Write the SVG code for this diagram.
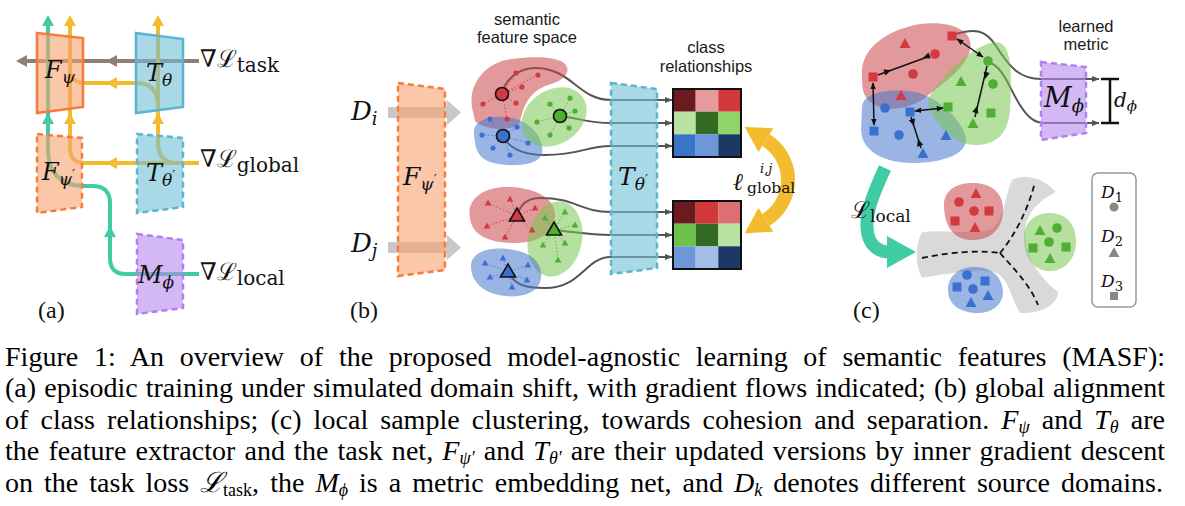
<svg xmlns="http://www.w3.org/2000/svg" width="1185" height="506" viewBox="0 0 1185 506">
<style>
.sans{font-family:"Liberation Sans",Arial,sans-serif;font-size:16.5px;fill:#1a1a1a}
.m{font-family:"DejaVu Serif","Liberation Serif",serif;font-style:italic;fill:#111}
.r{font-style:normal}
.pl{font-family:"Liberation Serif","Times New Roman",serif;font-size:24px;fill:#111}
.cap{font-family:"Liberation Serif","Times New Roman",serif;font-size:28px;fill:#000}
.ci{font-style:italic}
.thk{fill:none;stroke-width:4}
.teal{stroke:#3fcba3}.yel{stroke:#f3bc2e}.brn{stroke:#8f7e76}
.fT{fill:#3fcba3}.fY{fill:#f3bc2e}.fB{fill:#8f7e76}
.bxO{fill:#f9a26f;fill-opacity:.6;stroke:#f57c3c;stroke-width:2.5}
.bxB{fill:#70c0d5;fill-opacity:.6;stroke:#5ab4d2;stroke-width:2.5}
.bxP{fill:#b689ee;fill-opacity:.6;stroke:#b07ff0;stroke-width:2.5}
.dash{stroke-dasharray:6 4}
.bR{fill:#ca4649;fill-opacity:.55}.bG{fill:#78c752;fill-opacity:.55}.bBl{fill:#4778cc;fill-opacity:.55}
.pR{fill:#d23a3f}.pG{fill:#4fae33}.pB{fill:#3b6fd0}.pK{fill:#888}
.dR{stroke:#d23a3f}.dG{stroke:#4fae33}.dB{stroke:#3b6fd0}
.dot{stroke-width:1;stroke-dasharray:1.5 2;fill:none;opacity:.85}
.big{stroke:#111;stroke-width:1.6}
.cv{fill:none;stroke:#555;stroke-width:2}
.blk{fill:none;stroke:#111;stroke-width:1.5}
.cs{font-size:18px}
</style>
<defs>
<path id="ha" d="M0,0 L-11,-6 L-11,6 Z"/>
<path id="sh" d="M0,0 L-7,-3.2 L-7,3.2 Z" fill="#111"/>
<path id="st" d="M0,-3.6 L3.3,2.4 L-3.3,2.4 Z"/>
<path id="bt" d="M0,-8 L7.5,5 L-7.5,5 Z"/>
<rect id="sq" x="-4.5" y="-4.5" width="9" height="9"/>
<path id="tr" d="M0,-6 L5.5,4 L-5.5,4 Z"/>
<marker id="ag" viewBox="0 0 10 10" refX="9" refY="5" markerWidth="8" markerHeight="8" markerUnits="userSpaceOnUse" orient="auto"><path d="M0,1 L10,5 L0,9 Z" fill="#555"/></marker>
<marker id="ak" viewBox="0 0 10 10" refX="9" refY="5" markerWidth="7" markerHeight="7" markerUnits="userSpaceOnUse" orient="auto-start-reverse"><path d="M0,1 L10,5 L0,9 Z" fill="#111"/></marker>
</defs>

<!-- ========== connectors ========== -->
<g id="connectors">
  <!-- panel a -->
  <path class="thk brn" d="M199,61 H26"/>
  <use href="#ha" class="fB" transform="translate(16,61) rotate(180)"/>
  <use href="#ha" class="fB" transform="translate(106,61) rotate(180)"/>
  <path class="thk yel" d="M199,163 H178 Q158,163 158,143 V24"/>
  <path class="thk yel" d="M199,163 H85 Q70,163 70,148 V24"/>
  <path class="thk yel" d="M158,106 Q158,83 136,83 H85 Q70,83 70,68"/>
  <use href="#ha" class="fY" transform="translate(70,15) rotate(-90)"/>
  <use href="#ha" class="fY" transform="translate(158,15) rotate(-90)"/>
  <use href="#ha" class="fY" transform="translate(70,113) rotate(-90)"/>
  <use href="#ha" class="fY" transform="translate(158,113) rotate(-90)"/>
  <use href="#ha" class="fY" transform="translate(106,83) rotate(180)"/>
  <use href="#ha" class="fY" transform="translate(106,163) rotate(180)"/>
  <path class="thk teal" d="M199,274 H126 Q110,274 110,258 V203 Q110,187 94,186 H84 C60,186 48,172 48,150 V24"/>
  <use href="#ha" class="fT" transform="translate(48,15) rotate(-90)"/>
  <use href="#ha" class="fT" transform="translate(48,113) rotate(-90)"/>
  <use href="#ha" class="fT" transform="translate(110,226) rotate(-90)"/>

  <!-- panel b : input arrows -->
  <path fill="#c8c8c8" d="M388,107 H447 V100 L461,112.5 L447,125 V118 H388 Z"/>
  <path fill="#c8c8c8" d="M388,242 H447 V235 L461,247.5 L447,260 V253 H388 Z"/>
  <!-- panel b : cluster centre curves -->
  <path class="cv" marker-end="url(#ag)" d="M502,94 C505,80 518,68 535,68 C572,68 578,100 611,100 H672"/>
  <path class="cv" marker-end="url(#ag)" d="M560,116 C578,118 588,123 611,123 H672"/>
  <path class="cv" marker-end="url(#ag)" d="M503,136 C510,150 525,155 545,155 C582,155 585,146 611,146 H672"/>
  <path class="cv" marker-end="url(#ag)" d="M517,216 C520,205 527,198 540,198 C576,198 580,212 611,212 H672"/>
  <path class="cv" marker-end="url(#ag)" d="M554,230 C575,232 590,235 611,235 H672"/>
  <path class="cv" marker-end="url(#ag)" d="M508,272 C515,285 525,288 545,288 C582,288 585,257 611,257 H672"/>
  <!-- panel b : global alignment double arrow -->
  <path fill="none" stroke="#f3bc2e" stroke-width="14" d="M765.9,140.1 A47,47 0 0 1 765.9,219.9"/>
  <path fill="#f3bc2e" d="M744.7,126.9 L773.3,128.2 L758.5,152 Z"/>
  <path fill="#f3bc2e" d="M744.7,233.2 L773.3,231.8 L758.5,208 Z"/>

  <!-- panel c : curves to metric -->
  <path class="cv" marker-end="url(#ag)" d="M956,34 C975,28 986,30 996,46 C1010,68 1020,79 1041,79 H1099"/>
  <path class="cv" marker-end="url(#ag)" d="M991,63 C1005,70 1010,90 1020,105 C1028,118 1035,123 1045,123 H1099"/>
  <!-- d_phi bracket -->
  <path fill="none" stroke="#111" stroke-width="2.5" d="M1101,79 H1119 M1110,79 V123 M1101,123 H1119"/>
  <!-- teal L_local arrow -->
  <path fill="none" stroke="#3fcba3" stroke-width="13" d="M885,168 C875,190 866,210 867,228 C868,245 878,252 890,252"/>
  <path fill="#3fcba3" d="M887,236 L916,252 L887,268 Z"/>
</g>

<!-- ========== panel a nodes ========== -->
<g id="node-F-psi">
  <polygon class="bxO" points="37,33 83,38 83,107 37,113"/>
  <text class="m" x="45" y="78" font-size="24">F<tspan font-size="17" dy="5">ψ</tspan></text>
</g>
<g id="node-T-theta">
  <polygon class="bxB" points="136,33 183,39 183,107 136,113"/>
  <text class="m" x="146" y="81" font-size="24">T<tspan font-size="17" dy="5">θ</tspan></text>
</g>
<g id="node-F-psi-prime">
  <polygon class="bxO dash" points="37,134 82,138 82,207 37,213"/>
  <text class="m" x="42" y="180" font-size="24">F<tspan font-size="17" dy="5">ψ</tspan><tspan font-size="13" dy="-6">′</tspan></text>
</g>
<g id="node-T-theta-prime">
  <polygon class="bxB dash" points="137,134 183,138 183,207 137,213"/>
  <text class="m" x="146" y="181" font-size="24">T<tspan font-size="17" dy="5">θ</tspan><tspan font-size="13" dy="-6">′</tspan></text>
</g>
<g id="node-M-phi">
  <polygon class="bxP dash" points="137,234 183,240 183,308 137,314"/>
  <text class="m" x="138" y="283" font-size="24">M<tspan font-size="17" dy="5">ϕ</tspan></text>
</g>
<g id="labels-a">
  <text class="m" x="200" y="67" font-size="24"><tspan class="r">∇ℒ</tspan><tspan class="r" font-size="20" dy="5">task</tspan></text>
  <text class="m" x="200" y="167" font-size="24"><tspan class="r">∇ℒ</tspan><tspan class="r" font-size="20" dy="5">global</tspan></text>
  <text class="m" x="200" y="280" font-size="24"><tspan class="r">∇ℒ</tspan><tspan class="r" font-size="20" dy="5">local</tspan></text>
  <text class="pl" x="38" y="318">(a)</text>
</g>

<!-- ========== panel b ========== -->
<g id="labels-b">
  <text class="sans" x="527" y="25" text-anchor="middle">semantic</text>
  <text class="sans" x="527" y="43" text-anchor="middle">feature space</text>
  <text class="sans" x="706" y="53" text-anchor="middle">class</text>
  <text class="sans" x="706" y="72" text-anchor="middle">relationships</text>
  <text class="m" x="351" y="120" font-size="26">D<tspan font-size="18" dy="5">i</tspan></text>
  <text class="m" x="351" y="252" font-size="26">D<tspan font-size="18" dy="5">j</tspan></text>
  <text class="pl" x="350" y="318">(b)</text>
  <text class="m" x="733" y="190" font-size="24">ℓ</text>
  <text class="m" x="760" y="173" font-size="13">i,j</text>
  <text class="m r" x="747" y="193" font-size="15.5">global</text>
</g>
<g id="node-F-psi-prime-b">
  <polygon class="bxO dash" points="398,83 445,89 445,270 398,276"/>
  <text class="m" x="403" y="185" font-size="25">F<tspan font-size="17" dy="5">ψ</tspan><tspan font-size="13" dy="-6">′</tspan></text>
</g>
<g id="clusters-i">
  <path class="bR" d="M473,112 C466,85 485,62 512,59 C535,56 556,57 564,63 C572,70 566,80 548,85 C530,91 523,106 520,122 C515,132 485,131 475,121 Z"/>
  <path class="bBl" d="M474,134 C472,120 492,114 512,118 C532,122 545,140 542,154 C538,166 510,168 490,162 C476,157 475,145 474,134 Z"/>
  <ellipse class="bG" cx="554" cy="117" rx="35" ry="27" transform="rotate(-35 554 117)"/>
  <path class="dot dR" d="M502,94L516,73M502,94L538,75M502,94L522,87M502,94L483,104M502,94L516,103M502,94L507,119"/>
  <path class="dot dB" d="M503,136L482,135M503,136L490,119M503,136L517,127M503,136L528,143M503,136L493,148M503,136L510,155"/>
  <path class="dot dG" d="M560,116L550,104M560,116L570,98M560,116L575,111M560,116L537,122M560,116L569,128M560,116L550,135"/>
  <g class="pR"><circle cx="516" cy="73" r="2.6"/><circle cx="538" cy="75" r="2.6"/><circle cx="522" cy="87" r="2.6"/><circle cx="483" cy="104" r="2.6"/><circle cx="516" cy="103" r="2.6"/><circle cx="507" cy="119" r="2.6"/></g>
  <g class="pB"><circle cx="482" cy="135" r="2.6"/><circle cx="490" cy="119" r="2.6"/><circle cx="517" cy="127" r="2.6"/><circle cx="528" cy="143" r="2.6"/><circle cx="493" cy="148" r="2.6"/><circle cx="510" cy="155" r="2.6"/></g>
  <g class="pG"><circle cx="550" cy="104" r="2.6"/><circle cx="570" cy="98" r="2.6"/><circle cx="575" cy="111" r="2.6"/><circle cx="537" cy="122" r="2.6"/><circle cx="569" cy="128" r="2.6"/><circle cx="550" cy="135" r="2.6"/></g>
  <circle class="pR big" cx="502" cy="94" r="6.5"/>
  <circle class="pG big" cx="560" cy="116" r="6.5"/>
  <circle class="pB big" cx="503" cy="136" r="6.5"/>
</g>
<g id="clusters-j">
  <path class="bR" d="M470,218 C466,198 485,186 510,187 C535,188 555,198 555,215 C555,232 540,243 515,243 C490,243 472,236 470,218 Z"/>
  <ellipse class="bG" cx="555" cy="239" rx="27" ry="38" transform="rotate(12 555 239)"/>
  <path class="bBl" d="M471,268 C470,252 488,247 508,249 C530,251 543,262 541,278 C539,293 522,298 505,296 C485,294 472,283 471,268 Z"/>
  <path class="dot dR" d="M517,216L488,203M517,216L510,199M517,216L535,208M517,216L487,226M517,216L505,237M517,216L532,230"/>
  <path class="dot dG" d="M554,230L545,218M554,230L565,212M554,230L575,225M554,230L543,245M554,230L565,243M554,230L558,260"/>
  <path class="dot dB" d="M508,272L485,263M508,272L503,258M508,272L528,265M508,272L490,277M508,272L527,280M508,272L512,287"/>
  <g class="pR"><use href="#st" x="488" y="203"/><use href="#st" x="510" y="199"/><use href="#st" x="535" y="208"/><use href="#st" x="487" y="226"/><use href="#st" x="505" y="237"/><use href="#st" x="532" y="230"/></g>
  <g class="pG"><use href="#st" x="545" y="218"/><use href="#st" x="565" y="212"/><use href="#st" x="575" y="225"/><use href="#st" x="543" y="245"/><use href="#st" x="565" y="243"/><use href="#st" x="558" y="260"/></g>
  <g class="pB"><use href="#st" x="485" y="263"/><use href="#st" x="503" y="258"/><use href="#st" x="528" y="265"/><use href="#st" x="490" y="277"/><use href="#st" x="527" y="280"/><use href="#st" x="512" y="287"/></g>
  <use href="#bt" class="pR big" x="517" y="216"/>
  <use href="#bt" class="pG big" x="554" y="230"/>
  <use href="#bt" class="pB big" x="508" y="272"/>
</g>
<g id="node-T-theta-prime-b">
  <polygon class="bxB dash" points="611,83 657,89 657,268 611,274"/>
  <text class="m" x="618" y="185" font-size="25">T<tspan font-size="17" dy="5">θ</tspan><tspan font-size="13" dy="-6">′</tspan></text>
</g>
<g id="matrix-i">
  <rect x="673" y="89" width="22.7" height="22.7" fill="#6b1a1f"/>
  <rect x="695.7" y="89" width="22.7" height="22.7" fill="#e79a9e"/>
  <rect x="718.3" y="89" width="22.7" height="22.7" fill="#d2373b"/>
  <rect x="673" y="111.7" width="22.7" height="22.7" fill="#b9e3a3"/>
  <rect x="695.7" y="111.7" width="22.7" height="22.7" fill="#336a22"/>
  <rect x="718.3" y="111.7" width="22.7" height="22.7" fill="#8fd36a"/>
  <rect x="673" y="134.3" width="22.7" height="22.7" fill="#3a74c9"/>
  <rect x="695.7" y="134.3" width="22.7" height="22.7" fill="#6e97d9"/>
  <rect x="718.3" y="134.3" width="22.7" height="22.7" fill="#1c3864"/>
  <rect x="673" y="89" width="68" height="68" fill="none" stroke="#111" stroke-width="2"/>
</g>
<g id="matrix-j">
  <rect x="673" y="201" width="22.7" height="22.7" fill="#6b1a1f"/>
  <rect x="695.7" y="201" width="22.7" height="22.7" fill="#d2373b"/>
  <rect x="718.3" y="201" width="22.7" height="22.7" fill="#dd6f73"/>
  <rect x="673" y="223.7" width="22.7" height="22.7" fill="#6cc24a"/>
  <rect x="695.7" y="223.7" width="22.7" height="22.7" fill="#336a22"/>
  <rect x="718.3" y="223.7" width="22.7" height="22.7" fill="#b9e3a3"/>
  <rect x="673" y="246.3" width="22.7" height="22.7" fill="#6e97d9"/>
  <rect x="695.7" y="246.3" width="22.7" height="22.7" fill="#a3bfe7"/>
  <rect x="718.3" y="246.3" width="22.7" height="22.7" fill="#1c3864"/>
  <rect x="673" y="201" width="68" height="68" fill="none" stroke="#111" stroke-width="2"/>
</g>

<!-- ========== panel c ========== -->
<g id="clusters-c-before">
  <path class="bR" d="M862,75 C860,50 885,30 920,24 C950,20 975,30 970,50 C965,70 940,85 925,98 C905,112 880,112 868,100 C862,93 862,85 862,75 Z"/>
  <path class="bBl" d="M862,108 C862,92 890,88 915,92 C940,98 962,120 966,138 C968,155 940,163 913,163 C885,163 862,152 861,130 Z"/>
  <path class="bG" d="M929,97 C945,70 975,45 995,42 C1012,42 1012,70 1010,110 C1008,135 995,145 975,145 C955,145 935,125 928,105 Z"/>
  <g class="pR"><use href="#tr" x="905" y="44"/><circle cx="935" cy="54" r="4.8"/><use href="#sq" x="873" y="77"/><circle cx="913" cy="74" r="4.8"/><use href="#tr" x="901" y="96"/><use href="#sq" x="952" y="36"/></g>
  <g class="pG"><circle cx="988" cy="61" r="4.8"/><use href="#tr" x="961" y="82"/><circle cx="993" cy="84" r="4.8"/><use href="#sq" x="948" y="107"/><use href="#sq" x="991" y="113"/><use href="#tr" x="973" y="124"/></g>
  <g class="pB"><circle cx="885" cy="108" r="4.8"/><use href="#sq" x="910" y="112"/><use href="#sq" x="874" y="131"/><circle cx="899" cy="135" r="4.8"/><use href="#tr" x="946" y="136"/><use href="#tr" x="923" y="154"/></g>
  <!-- separation (outward) -->
  <path class="blk" marker-start="url(#ak)" marker-end="url(#ak)" d="M873,83 L874,125"/>
  <path class="blk" marker-start="url(#ak)" marker-end="url(#ak)" d="M957,39 L983,57"/>
  <path class="blk" marker-start="url(#ak)" marker-end="url(#ak)" d="M915,111 L943,108"/>
  <!-- cohesion (inward) -->
  <path class="blk" d="M878,75 L930,56"/>
  <use href="#sh" transform="translate(891,70) rotate(-20.35)"/>
  <use href="#sh" transform="translate(923,58) rotate(159.65)"/>
  <path class="blk" d="M911,117 L921,148"/>
  <use href="#sh" transform="translate(914,126) rotate(72.4)"/>
  <use href="#sh" transform="translate(918,139) rotate(252.4)"/>
  <path class="blk" d="M987,66 L975,117"/>
  <use href="#sh" transform="translate(985,79) rotate(103.6)"/>
  <use href="#sh" transform="translate(977,106) rotate(283.6)"/>
</g>
<g id="node-M-phi-c">
  <text class="sans" x="1086" y="32" text-anchor="middle">learned</text>
  <text class="sans" x="1086" y="50" text-anchor="middle">metric</text>
  <polygon class="bxP dash" points="1041,62 1086,67 1086,133 1041,140"/>
  <text class="m" x="1044" y="107" font-size="27">M<tspan font-size="18" dy="5">ϕ</tspan></text>
  <text class="m" x="1114" y="107" font-size="20">d<tspan font-size="15" dy="4">ϕ</tspan></text>
</g>
<g id="clusters-c-after">
  <path fill="#d9d9d9" d="M922,232 C950,229 980,236 993,228 C1005,218 1005,195 1012,180 C1022,174 1042,176 1056,192 C1040,200 1026,212 1025,232 C1024,256 1040,278 1058,292 C1058,305 1040,314 1020,313 C1012,300 1010,285 1000,275 C990,268 960,271 922,278 C915,265 915,245 922,232 Z"/>
  <path fill="none" stroke="#111" stroke-width="1.8" stroke-dasharray="6 4" d="M922,258 C950,252 980,250 1000,253 M1000,253 C1015,235 1028,210 1035,182 M1000,253 C1015,270 1030,285 1038,305"/>
  <path class="bR" d="M944,205 C944,188 960,182 975,183 C995,184 1004,196 1003,212 C1002,230 990,240 972,240 C953,240 944,225 944,205 Z"/>
  <path class="bG" d="M1024,238 C1024,222 1035,213 1050,213 C1066,213 1077,225 1076,243 C1075,262 1062,272 1048,271 C1032,270 1024,255 1024,238 Z"/>
  <path class="bBl" d="M948,290 C948,275 960,267 975,267 C992,267 1003,278 1003,292 C1003,306 990,314 975,313 C958,312 948,303 948,290 Z"/>
  <g class="pR"><use href="#tr" x="976" y="194"/><circle cx="959" cy="202" r="4.8"/><circle cx="974" cy="211" r="4.8"/><use href="#sq" x="989" y="211"/><use href="#sq" x="955" y="221"/><use href="#tr" x="975" y="228"/></g>
  <g class="pG"><use href="#tr" x="1040" y="231"/><circle cx="1057" cy="228" r="4.8"/><circle cx="1049" cy="242" r="4.8"/><use href="#sq" x="1033" y="248"/><use href="#sq" x="1066" y="247"/><use href="#tr" x="1050" y="259"/></g>
  <g class="pB"><circle cx="967" cy="275" r="4.8"/><use href="#sq" x="985" y="281"/><use href="#sq" x="957" y="287"/><circle cx="973" cy="289" r="4.8"/><use href="#tr" x="988" y="296"/><use href="#tr" x="971" y="303"/></g>
  <text class="m" x="851" y="218" font-size="23"><tspan class="r">ℒ</tspan><tspan class="r" font-size="17" dy="4">local</tspan></text>
  <text class="pl" x="853" y="318">(c)</text>
</g>
<g id="legend">
  <rect x="1092" y="173" width="44" height="134" rx="6" fill="#fff" stroke="#999" stroke-width="1.5"/>
  <text class="m" x="1101" y="198" font-size="17">D<tspan class="r" font-size="13" dy="4">1</tspan></text>
  <circle class="pK" cx="1114" cy="207" r="4.5"/>
  <text class="m" x="1101" y="242" font-size="17">D<tspan class="r" font-size="13" dy="4">2</tspan></text>
  <use href="#tr" class="pK" x="1114" y="253"/>
  <text class="m" x="1101" y="287" font-size="17">D<tspan class="r" font-size="13" dy="4">3</tspan></text>
  <rect class="pK" x="1110" y="292" width="8" height="8"/>
</g>

<!-- ========== caption ========== -->
<g id="caption" class="cap">
  <text x="5" y="366" word-spacing="8.7" textLength="1160" lengthAdjust="spacing">Figure 1: An overview of the proposed model-agnostic learning of semantic features (MASF):</text>
  <text x="5" y="397" word-spacing="1.1" textLength="1160" lengthAdjust="spacing">(a) episodic training under simulated domain shift, with gradient flows indicated; (b) global alignment</text>
  <text x="5" y="429" word-spacing="5" textLength="1160" lengthAdjust="spacing">of class relationships; (c) local sample clustering, towards cohesion and separation. <tspan class="ci">F</tspan><tspan class="ci cs" dy="4">ψ</tspan><tspan dy="-4"> and </tspan><tspan class="ci">T</tspan><tspan class="ci cs" dy="4">θ</tspan><tspan dy="-4"> are</tspan></text>
  <text x="5" y="460" word-spacing="2" textLength="1160" lengthAdjust="spacing">the feature extractor and the task net, <tspan class="ci">F</tspan><tspan class="ci cs" dy="4">ψ′</tspan><tspan dy="-4"> and </tspan><tspan class="ci">T</tspan><tspan class="ci cs" dy="4">θ′</tspan><tspan dy="-4"> are their updated versions by inner gradient descent</tspan></text>
  <text x="5" y="492" word-spacing="4" textLength="1158" lengthAdjust="spacing">on the task loss <tspan class="ci">ℒ</tspan><tspan class="cs" dy="4">task</tspan><tspan dy="-4">, the </tspan><tspan class="ci">M</tspan><tspan class="ci cs" dy="4">ϕ</tspan><tspan dy="-4"> is a metric embedding net, and </tspan><tspan class="ci">D</tspan><tspan class="ci cs" dy="4">k</tspan><tspan dy="-4"> denotes different source domains.</tspan></text>
</g>
</svg>
